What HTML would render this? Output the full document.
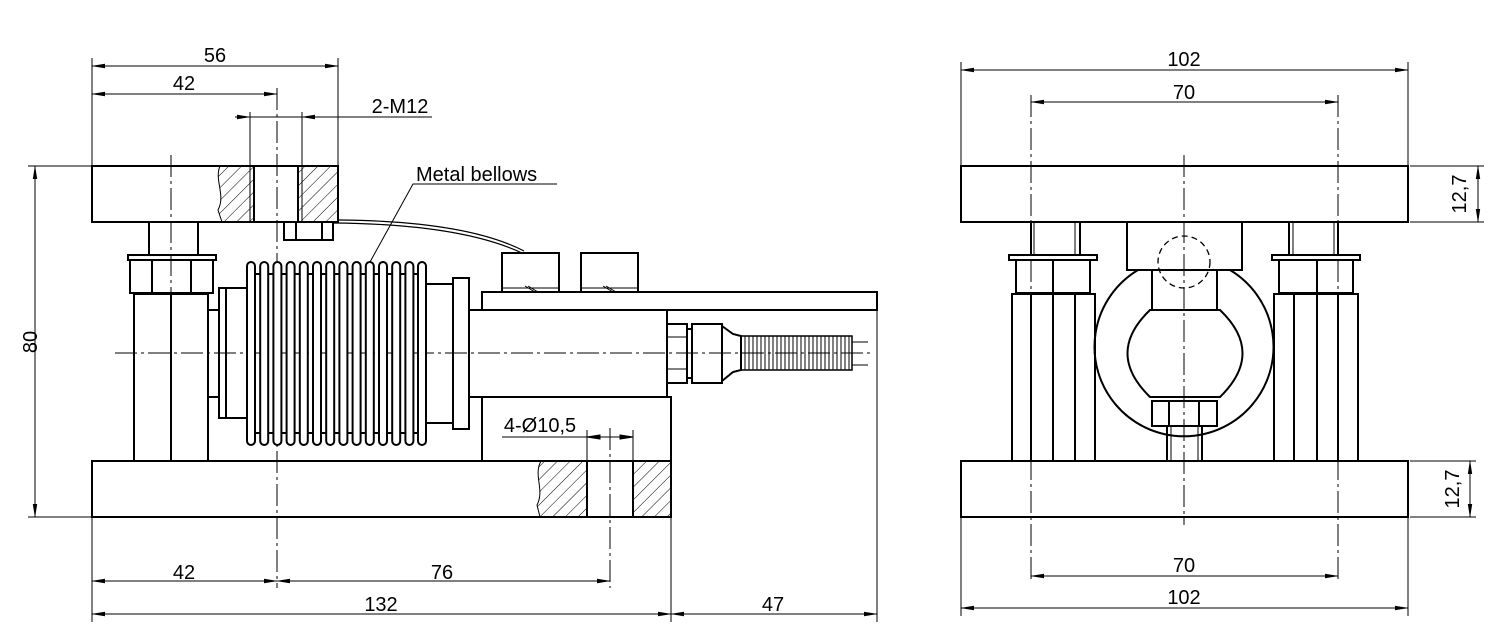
<!DOCTYPE html>
<html><head><meta charset="utf-8"><style>
html,body{margin:0;padding:0;background:#fff;}
svg{display:block;}
text{font-family:"Liberation Sans",sans-serif;font-size:20px;fill:#000;}
</style></head><body>
<svg width="1500" height="643" viewBox="0 0 1500 643" xmlns="http://www.w3.org/2000/svg">
<defs>
<pattern id="h" patternUnits="userSpaceOnUse" width="9" height="9" patternTransform="rotate(45)">
<line x1="0" y1="0" x2="0" y2="9" stroke="#000" stroke-width="1"/>
</pattern>
<marker id="a" markerWidth="14" markerHeight="6" refX="13" refY="3" orient="auto-start-reverse" markerUnits="userSpaceOnUse">
<path d="M0,0.8 L14,3 L0,5.2 Z" fill="#000"/>
</marker>
</defs>
<g fill="none" stroke="#000" stroke-width="1">
<!-- centerlines -->
<g stroke-dasharray="22 4 3 4">
<line x1="115" y1="353" x2="870" y2="353"/>
<line x1="171" y1="155" x2="171" y2="300"/>
<line x1="277" y1="88" x2="277" y2="588"/>
<line x1="610" y1="428" x2="610" y2="588"/>
<line x1="1031" y1="95" x2="1031" y2="580"/>
<line x1="1338" y1="95" x2="1338" y2="580"/>
<line x1="1184" y1="155" x2="1184" y2="525"/>
</g>
<!-- hatches -->
<path d="M220,166 C214,180 226,195 218,210 L222,222 L254,222 L254,166 Z" fill="url(#h)" stroke="none"/>
<rect x="298" y="166" width="40" height="56" fill="url(#h)" stroke="none"/>
<path d="M541,461 C533,475 545,490 537,505 L540,517 L587,517 L587,461 Z" fill="url(#h)" stroke="none"/>
<rect x="633" y="461" width="38" height="56" fill="url(#h)" stroke="none"/>
<path d="M220,166 C214,180 226,195 218,210 L222,222"/>
<path d="M541,461 C533,475 545,490 537,505 L540,517"/>
<line x1="250" y1="112" x2="250" y2="222"/><line x1="302" y1="112" x2="302" y2="222"/>
</g>
<g fill="none" stroke="#000" stroke-width="2">
<!-- LEFT VIEW -->
<rect x="92" y="166" width="246" height="56"/>
<line x1="254" y1="166" x2="254" y2="222"/><line x1="298" y1="166" x2="298" y2="222"/>
<rect x="284" y="222" width="49" height="18"/>
<line x1="296" y1="222" x2="296" y2="240"/><line x1="322" y1="222" x2="322" y2="240"/>
<line x1="149" y1="222" x2="149" y2="256"/><line x1="198" y1="222" x2="198" y2="256"/>
<rect x="128" y="255" width="88" height="5"/>
<rect x="130" y="260" width="83" height="33"/>
<line x1="152" y1="260" x2="152" y2="293"/><line x1="191" y1="260" x2="191" y2="293"/>
<rect x="134" y="294" width="74" height="167"/>
<line x1="171" y1="294" x2="171" y2="461"/>
<rect x="92" y="461" width="579" height="56"/>
<line x1="587" y1="461" x2="587" y2="517"/><line x1="633" y1="461" x2="633" y2="517"/>
<rect x="208" y="310" width="11" height="87"/>
<rect x="219" y="288" width="28" height="130"/>
<line x1="226" y1="288" x2="226" y2="418"/>
<line x1="247" y1="274" x2="426" y2="274"/><line x1="247" y1="433" x2="426" y2="433"/>
<rect x="426" y="284" width="27" height="139"/>
<rect x="453" y="278" width="16" height="151"/>
<rect x="469" y="310" width="198" height="87"/>
<rect x="482" y="292" width="395" height="18"/>
<rect x="482" y="397" width="189" height="64"/>
<rect x="502" y="253" width="57" height="39"/>
<rect x="581" y="253" width="57" height="39"/>
<rect x="667" y="324" width="20" height="59"/>
<rect x="687" y="329" width="5" height="49"/>
<rect x="692" y="324" width="30" height="59"/>
<path d="M722,326 L733,334 L741,336 L741,370 L733,372 L722,381"/>
</g>
<g fill="#fff" stroke="#000" stroke-width="2">
<rect x="247" y="262" width="8" height="183" rx="4"/>
<rect x="260.2" y="262" width="8" height="183" rx="4"/>
<rect x="273.4" y="262" width="8" height="183" rx="4"/>
<rect x="286.6" y="262" width="8" height="183" rx="4"/>
<rect x="299.8" y="262" width="8" height="183" rx="4"/>
<rect x="313" y="262" width="8" height="183" rx="4"/>
<rect x="326.2" y="262" width="8" height="183" rx="4"/>
<rect x="339.4" y="262" width="8" height="183" rx="4"/>
<rect x="352.6" y="262" width="8" height="183" rx="4"/>
<rect x="365.8" y="262" width="8" height="183" rx="4"/>
<rect x="379" y="262" width="8" height="183" rx="4"/>
<rect x="392.2" y="262" width="8" height="183" rx="4"/>
<rect x="405.4" y="262" width="8" height="183" rx="4"/>
<rect x="418" y="262" width="8" height="183" rx="4"/>
</g>
<g fill="none" stroke="#000" stroke-width="1">
<line x1="667" y1="337" x2="687" y2="337"/><line x1="667" y1="369" x2="687" y2="369"/>
<line x1="502" y1="288" x2="559" y2="288"/><line x1="581" y1="288" x2="638" y2="288"/>
<path d="M525,286 L535,292 M528,286 L538,292 M603,286 L613,292 M606,286 L616,292"/>
<rect x="741" y="336" width="111" height="34" stroke-width="1.5"/>
<path d="M745,336V370M749,336V370M753,336V370M757,336V370M761,336V370M765,336V370M769,336V370M773,336V370M777,336V370M781,336V370M785,336V370M789,336V370M793,336V370M797,336V370M801,336V370M805,336V370M809,336V370M813,336V370M817,336V370M821,336V370M825,336V370M829,336V370M833,336V370M837,336V370M841,336V370M845,336V370M849,336V370"/>
<line x1="852" y1="342" x2="868" y2="342"/><line x1="852" y1="365" x2="868" y2="365"/>
<path d="M333,223 Q460,224 522,253" stroke-width="1.2"/>
<path d="M338,220 Q466,221 524,251" stroke-width="1.2"/>
<path d="M370,262 L413,184 L557,184"/>
<!-- left dims -->
<line x1="92" y1="58" x2="92" y2="166"/><line x1="338" y1="58" x2="338" y2="166"/>
<line x1="92" y1="66" x2="338" y2="66" marker-start="url(#a)" marker-end="url(#a)"/>
<line x1="92" y1="94" x2="277" y2="94" marker-start="url(#a)" marker-end="url(#a)"/>
<line x1="235" y1="117" x2="250" y2="117" marker-end="url(#a)"/>
<line x1="302" y1="117" x2="317" y2="117" marker-start="url(#a)"/>
<line x1="250" y1="117" x2="432" y2="117"/>
<line x1="28" y1="166" x2="92" y2="166"/><line x1="28" y1="517" x2="92" y2="517"/>
<line x1="35" y1="166" x2="35" y2="517" marker-start="url(#a)" marker-end="url(#a)"/>
<line x1="92" y1="517" x2="92" y2="622"/><line x1="671" y1="517" x2="671" y2="622"/>
<line x1="877" y1="310" x2="877" y2="622"/>
<line x1="92" y1="581" x2="277" y2="581" marker-start="url(#a)" marker-end="url(#a)"/>
<line x1="277" y1="581" x2="610" y2="581" marker-start="url(#a)" marker-end="url(#a)"/>
<line x1="92" y1="614" x2="671" y2="614" marker-start="url(#a)" marker-end="url(#a)"/>
<line x1="671" y1="614" x2="877" y2="614" marker-start="url(#a)" marker-end="url(#a)"/>
<line x1="587" y1="430" x2="587" y2="461"/><line x1="633" y1="430" x2="633" y2="461"/>
<line x1="502" y1="437" x2="633" y2="437"/>
<path d="M587,437 L600,435 L600,439 Z M633,437 L620,435 L620,439 Z" fill="#000"/>
</g>
<!-- RIGHT VIEW -->
<g fill="none" stroke="#000" stroke-width="2">
<rect x="961" y="166" width="447" height="56"/>
<rect x="961" y="461" width="447" height="56"/>
<line x1="1031" y1="222" x2="1031" y2="255"/><line x1="1080" y1="222" x2="1080" y2="255"/>
<rect x="1009" y="255" width="88" height="5"/>
<rect x="1016" y="260" width="74" height="33"/>
<line x1="1053" y1="260" x2="1053" y2="293"/>
<rect x="1012" y="294" width="83" height="167"/>
<line x1="1031" y1="294" x2="1031" y2="461"/><line x1="1053" y1="294" x2="1053" y2="461"/><line x1="1075" y1="294" x2="1075" y2="461"/>
<line x1="1289" y1="222" x2="1289" y2="255"/><line x1="1338" y1="222" x2="1338" y2="255"/>
<rect x="1272" y="255" width="88" height="5"/>
<rect x="1279" y="260" width="74" height="33"/>
<line x1="1317" y1="260" x2="1317" y2="293"/>
<rect x="1274" y="294" width="84" height="167"/>
<line x1="1294" y1="294" x2="1294" y2="461"/><line x1="1317" y1="294" x2="1317" y2="461"/><line x1="1338" y1="294" x2="1338" y2="461"/>
<path d="M1138,270 A89.5,89.5 0 1 0 1230,270"/>
<rect x="1127" y="222" width="115" height="48" fill="#fff"/>
<rect x="1152" y="270" width="65" height="40"/>
<path d="M1150,310 L1220,310 Q1265,353 1220,397 L1150,397 Q1105,353 1150,310 Z"/>
<rect x="1152" y="401" width="65" height="25"/>
<line x1="1169" y1="401" x2="1169" y2="426"/><line x1="1199" y1="401" x2="1199" y2="426"/>
<line x1="1167" y1="426" x2="1167" y2="461"/><line x1="1202" y1="426" x2="1202" y2="461"/>
</g>
<g fill="none" stroke="#000" stroke-width="1">
<line x1="1034" y1="222" x2="1034" y2="255"/><line x1="1075" y1="222" x2="1075" y2="255"/>
<line x1="1293" y1="222" x2="1293" y2="255"/><line x1="1334" y1="222" x2="1334" y2="255"/>
<line x1="1171" y1="426" x2="1171" y2="461"/><line x1="1198" y1="426" x2="1198" y2="461"/>
<circle cx="1184" cy="262" r="26" stroke-dasharray="6 4" stroke-width="1.3"/>
<line x1="1184" y1="155" x2="1184" y2="525" stroke-dasharray="22 4 3 4"/>
<line x1="961" y1="62" x2="961" y2="166"/><line x1="1408" y1="62" x2="1408" y2="166"/>
<line x1="961" y1="517" x2="961" y2="616"/><line x1="1408" y1="517" x2="1408" y2="616"/>
<line x1="961" y1="70" x2="1408" y2="70" marker-start="url(#a)" marker-end="url(#a)"/>
<line x1="1031" y1="102" x2="1338" y2="102" marker-start="url(#a)" marker-end="url(#a)"/>
<line x1="1031" y1="576" x2="1338" y2="576" marker-start="url(#a)" marker-end="url(#a)"/>
<line x1="961" y1="608" x2="1408" y2="608" marker-start="url(#a)" marker-end="url(#a)"/>
<line x1="1410" y1="166" x2="1484" y2="166"/><line x1="1410" y1="222" x2="1484" y2="222"/>
<line x1="1478" y1="166" x2="1478" y2="222" marker-start="url(#a)" marker-end="url(#a)"/>
<line x1="1410" y1="461" x2="1476" y2="461"/><line x1="1410" y1="517" x2="1476" y2="517"/>
<line x1="1470" y1="461" x2="1470" y2="517" marker-start="url(#a)" marker-end="url(#a)"/>
</g>
<!-- texts -->
<g>
<text x="215" y="62" text-anchor="middle">56</text>
<text x="184" y="90" text-anchor="middle">42</text>
<text x="400" y="113" text-anchor="middle">2-M12</text>
<text x="416" y="181">Metal bellows</text>
<text x="540" y="432" text-anchor="middle">4-Ø10,5</text>
<text x="30" y="342" text-anchor="middle" transform="rotate(-90 30 342)" dy="7">80</text>
<text x="184" y="579" text-anchor="middle">42</text>
<text x="442" y="579" text-anchor="middle">76</text>
<text x="381" y="611" text-anchor="middle">132</text>
<text x="773" y="611" text-anchor="middle">47</text>
<text x="1184" y="66" text-anchor="middle">102</text>
<text x="1184" y="99" text-anchor="middle">70</text>
<text x="1184" y="572" text-anchor="middle">70</text>
<text x="1184" y="604" text-anchor="middle">102</text>
<text x="1466" y="194" text-anchor="middle" transform="rotate(-90 1466 194)">12,7</text>
<text x="1459" y="489" text-anchor="middle" transform="rotate(-90 1459 489)">12,7</text>
</g>
</svg>
</body></html>
